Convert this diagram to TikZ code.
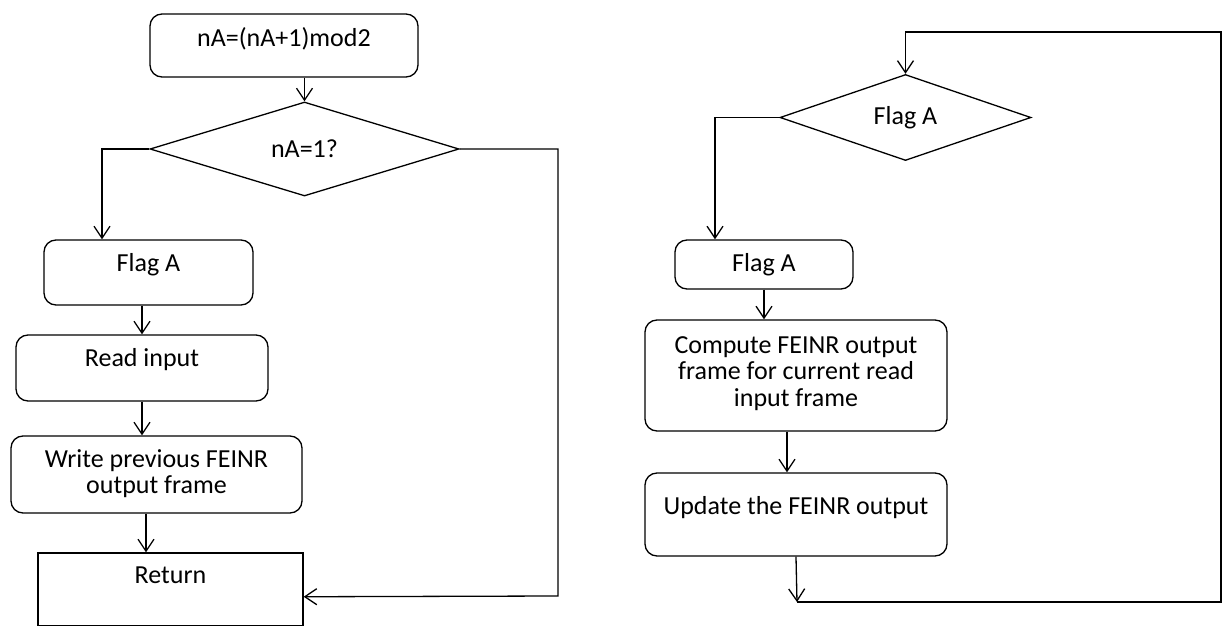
\documentclass[tikz,border=0pt]{standalone}
\usepackage{fontspec}
\setmainfont{Carlito}
\usetikzlibrary{arrows.meta,shapes.geometric,fit}

\tikzset{
  box/.style={draw,rounded corners=6pt,inner sep=0pt},
  plainbox/.style={draw,inner sep=0pt},
  decision/.style={draw,diamond,inner sep=0pt},
  boxtext/.style={anchor=north,align=center,yshift=-3.5pt},
}

\begin{document}
\begin{tikzpicture}[x=0.5pt,y=-0.5pt,line width=0.65pt,
    >={Straight Barb[length=6pt,width=8pt]},
    every node/.append style={font=\fontsize{13}{13.2}\selectfont}]
      \useasboundingbox[fill=white] (0,0) rectangle (1223,626);
      % left part
      \node[box,fit={(150,14) (418,77)}] (calc) {};
      \node[decision,minimum width=154.5pt,minimum height=47pt] (nAq) at (304.5,149) {nA=1?};
      \node[box,fit={(44,240) (253,305)}] (flagA) {};
      \node[box,fit={(16,335) (268,401)}] (read) {};
      \node[box,fit={(11,436) (302,513)}] (write) {};
      \node[plainbox,fit={(38,553) (303,625.5)}] (ret) {};
      \node[boxtext] (t-calc) at (calc.north) {nA=(nA+1)mod2};
      \node[boxtext] (t-flagA) at (flagA.north) {Flag A};
      \node[boxtext] (t-read) at (read.north) {Read input};
      \node[boxtext] (t-write) at (write.north) {Write previous FEINR\\output frame};
      \node[boxtext] (t-ret) at (ret.north) {Return};
      % right part
      \node[decision,minimum width=125.5pt,minimum height=39.5pt] (flagq) at (905.5,117.5) {Flag A};
      \node[box,fit={(675,240) (853,289)}] (flagB) {};
      \node[box,fit={(645,320) (947,431)}] (compute) {};
      \node[box,fit={(645,473) (947,556)}] (update) {};
      \node[boxtext] (t-flagB) at (flagB.north) {Flag A};
      \node[boxtext,yshift=-1.5pt] (t-compute) at (compute.north) {Compute FEINR output\\frame for current read\\input frame};
      \node[boxtext,yshift=-5pt] (t-update) at (update.north) {Update the FEINR output};
      \coordinate (loopend) at (797,602);

      \draw[->] (calc.south -| nAq.north) -- (nAq.north);
      \draw[->] (nAq.west) -| ([xshift=-23.25pt]flagA.north);
      \draw[->] (flagA.south -| read.north) -- (read.north);
      \draw[->] (read.south) -- (read.south |- write.north);
      \draw[->] ([xshift=-5.25pt]write.south) -- ([xshift=-5.25pt]write.south |- ret.north);
      \draw[->] (nAq.east) -- (558,149) -- (558,596) -- ([yshift=-3.75pt]ret.east);

      \draw[->] (flagq.west) -| ([xshift=-24.5pt]flagB.north);
      \draw[->] (flagB.south) -- (flagB.south |- compute.north);
      \draw[->] ([xshift=-4.5pt]compute.south) -- ([xshift=-4.5pt]compute.south |- update.north);
      \draw[->] (update.south) -- (loopend);
      \draw[->] (loopend) -- (1221,602) -- (1221,32) -| (flagq.north);
    \end{tikzpicture}
\end{document}
